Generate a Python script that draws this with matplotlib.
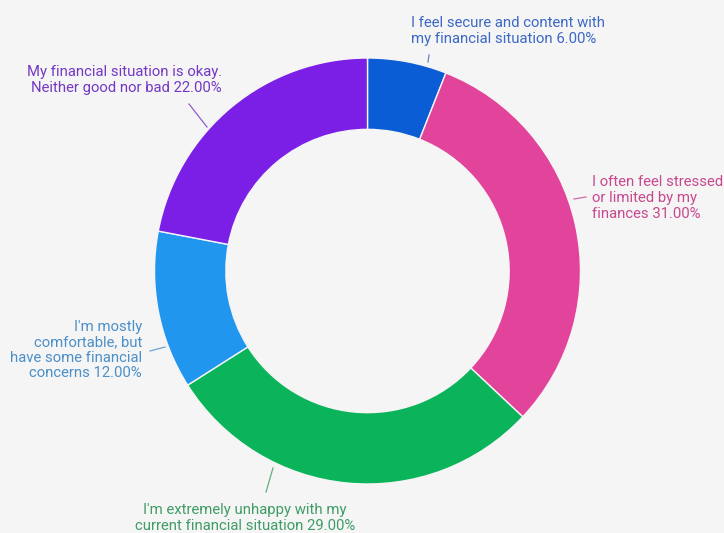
import matplotlib
matplotlib.use("Agg")
import matplotlib.pyplot as plt

labels = [
    "I feel secure and content with\nmy financial situation",
    "I often feel stressed\nor limited by my\nfinances",
    "I'm extremely unhappy with my\ncurrent financial situation",
    "I'm mostly\ncomfortable, but\nhave some financial\nconcerns",
    "My financial situation is okay.\nNeither good nor bad",
]
values = [6.0, 31.0, 29.0, 12.0, 22.0]
colors = ["#0b5dd6", "#e2449b", "#0bb45a", "#2196ef", "#7b1fe6"]
text_colors = ["#3c68c6", "#c8488f", "#3f9c66", "#4b8fc8", "#7438c4"]

W, H = 724, 533
fig = plt.figure(figsize=(W / 100, H / 100), dpi=100)
fig.patch.set_facecolor("#f5f5f5")
ax = fig.add_axes([0, 0, 1, 1])
ax.set_xlim(0, W)
ax.set_ylim(0, H)
ax.set_aspect("equal")
ax.axis("off")

cx, cy, r = 367.5, H - 271, 213
ax.pie(values, colors=colors, startangle=90, counterclock=False,
       center=(cx, cy), radius=r,
       wedgeprops=dict(width=r * 0.335, edgecolor="#f5f5f5", linewidth=1.0))
ax.set_xlim(0, W)
ax.set_ylim(0, H)

# label text position (pixels from top-left), alignment, leader line
layout = [
    dict(xy=(411, 31), ha="left", lead=((429, 55), (428, 62))),
    dict(xy=(592, 198), ha="left", lead=((586, 197), (574, 199))),
    dict(xy=(245, 518), ha="center", lead=((266, 492), (273, 468))),
    dict(xy=(142, 350), ha="right", lead=((150, 351), (165, 347))),
    dict(xy=(222, 80), ha="right", lead=((189, 104), (207, 127))),
]

for lab, v, tc, lay in zip(labels, values, text_colors, layout):
    x, y = lay["xy"]
    ax.text(x, H - y, f"{lab} {v:.2f}%", ha=lay["ha"], va="center",
            color=tc, fontsize=10.7, family=["Roboto", "DejaVu Sans"],
            linespacing=1.15, multialignment=lay["ha"])
    (x0, y0), (x1, y1) = lay["lead"]
    ax.plot([x0, x1], [H - y0, H - y1], color=tc, lw=0.9, alpha=0.8)

fig.savefig("out.png", dpi=100, facecolor=fig.get_facecolor())
